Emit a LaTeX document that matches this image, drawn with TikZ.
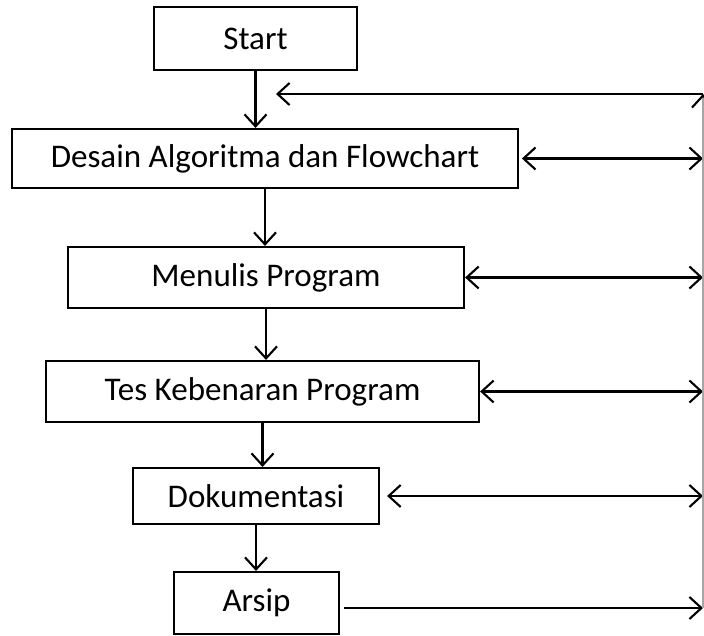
\documentclass[tikz,border=0pt]{standalone}
\usepackage{fontspec}
\setmainfont{Carlito}
\usetikzlibrary{arrows.meta}

\begin{document}
\begin{tikzpicture}[x=0.025cm, y=-0.025cm, line width=1.5pt,
    >={Straight Barb[length=3mm,width=5.5mm]}]

        \useasboundingbox (0,0) rectangle (704,636);

        \begin{scope}[every node/.style={rectangle, draw, inner sep=0pt,
            font=\fontsize{23.5}{28}\selectfont}]
          \node[minimum width=5.075cm, minimum height=1.575cm] (start)   at (255.5,38.5) {Start};
          \node[minimum width=12.65cm, minimum height=1.475cm] (desain)  at (265,158.5)  {Desain Algoritma dan Flowchart};
          \node[minimum width=9.9cm,   minimum height=1.525cm] (menulis) at (266,277.5)  {Menulis Program};
          \node[minimum width=10.825cm,minimum height=1.525cm] (tes)     at (262.5,391.5) {Tes Kebenaran Program};
          \node[minimum width=6.15cm,  minimum height=1.4cm]   (doku)    at (256,496)    {Dokumentasi};
          \node[minimum width=4.125cm, minimum height=1.55cm]  (arsip)   at (256.5,603)  {Arsip};
        \end{scope}

        \coordinate (atas)  at (703,94);
        \coordinate (balik) at (276,94);
        \coordinate (bawah) at (703,608);

        \begin{scope}[every edge/.style={draw}]
          \path (start.south)   edge[->] (start.south |- desain.north);
          \path (desain.south)  edge[->] (desain.south |- menulis.north);
          \path (menulis.south) edge[->] (menulis.south |- tes.north);
          \path (tes.south)     edge[->] (tes.south |- doku.north);
          \path (doku.south)    edge[->] (doku.south |- arsip.north);
          \path (desain.east)   edge[<->, shorten <=2pt] (desain.east -| atas);
          \path (menulis.east)  edge[<->] (menulis.east -| atas);
          \path (tes.east)      edge[<->] (tes.east -| atas);
          \path (doku.east)     edge[<->, shorten <=5pt] (doku.east -| atas);
          \path (arsip.east |- bawah) edge[->, shorten <=3pt] (bawah);
          \path (atas)          edge[->] (balik);
        \end{scope}

        \draw[gray!70, line width=0.8pt,
          -{Straight Barb[length=3mm,width=5.5mm,black,line width=1.5pt]}] (bawah) -- (atas);

      \end{tikzpicture}
\end{document}
